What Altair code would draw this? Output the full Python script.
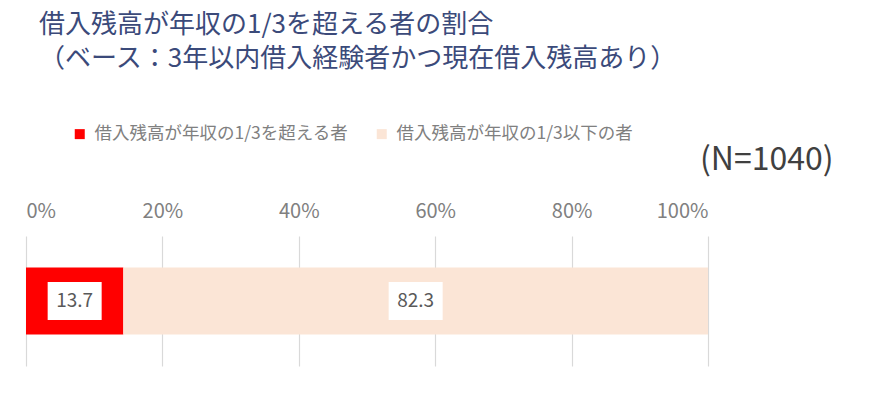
import altair as alt
import pandas as pd

categories = ["借入残高が年収の1/3を超える者", "借入残高が年収の1/3以下の者"]
values = [13.7, 82.3]
order = [0, 1]
colors = ["#FF0000", "#FBE5D6"]
ticks = [0, 0.2, 0.4, 0.6, 0.8, 1.0]
title_lines = ["借入残高が年収の1/3を超える者の割合", "（ベース：3年以内借入経験者かつ現在借入残高あり）"]
n_label = "(N=1040)"

FONT = "Noto Sans CJK JP"

df = pd.DataFrame({"row": ["all"] * 2, "cat": categories, "value": values, "ord": order})

base = alt.Chart(df)

bars = base.mark_bar(size=67).encode(
    x=alt.X("value:Q", stack="normalize",
            scale=alt.Scale(domain=[0, 1], nice=False),
            axis=alt.Axis(orient="top", format=".0%", values=ticks, grid=True,
                          gridColor="#D9D9D9", gridWidth=1.2, domain=False, ticks=False,
                          labelFontSize=20, labelColor="#808080", labelFont=FONT,
                          labelPadding=15, title=None)),
    y=alt.Y("row:N", axis=None),
    color=alt.Color("cat:N", scale=alt.Scale(domain=categories, range=colors),
                    legend=alt.Legend(orient="none", legendX=45, legendY=-111,
                                      direction="horizontal", title=None,
                                      symbolType="square", symbolSize=100,
                                      symbolStrokeWidth=0, labelFontSize=17.5,
                                      labelColor="#808080", labelFont=FONT,
                                      labelLimit=400, columnPadding=24,
                                      symbolOffset=0, labelOffset=6)),
    order=alt.Order("ord:Q"),
)

stacked = base.transform_stack(
    stack="value", groupby=["row"], offset="normalize",
    sort=[alt.SortField("ord", order="ascending")], as_=["v0", "v1"]
).transform_calculate(mid="(datum.v0 + datum.v1) / 2")

boxes = stacked.mark_point(
    shape="M-1,-0.7037H1V0.7037H-1Z", filled=True, color="white", opacity=1, size=2916
).encode(x=alt.X("mid:Q"), y=alt.Y("row:N"))

labels = stacked.mark_text(fontSize=19, color="#595959", font=FONT).encode(
    x=alt.X("mid:Q"), y=alt.Y("row:N"), text=alt.Text("value:Q", format=".1f")
)

title = alt.Chart(pd.DataFrame({"t": ["\n".join(title_lines)]})).mark_text(
    align="left", baseline="top", fontSize=26, color="#3B4A7A", font=FONT,
    lineBreak="\n", lineHeight=34
).encode(x=alt.value(13), y=alt.value(-224), text="t:N")

ntext = alt.Chart(pd.DataFrame({"t": [n_label]})).mark_text(
    align="left", baseline="middle", fontSize=32, color="#404040", font=FONT
).encode(x=alt.value(674), y=alt.value(-76), text="t:N")

chart = alt.layer(bars, boxes, labels, title, ntext).properties(
    width=682, height=130,
    autosize=alt.AutoSizeParams(type="none"),
    padding={"left": 18, "top": 228, "right": 150, "bottom": 20},
    background="white",
).configure_view(stroke=None)

chart.save("out.html", embed_options={"renderer": "svg", "actions": False})
